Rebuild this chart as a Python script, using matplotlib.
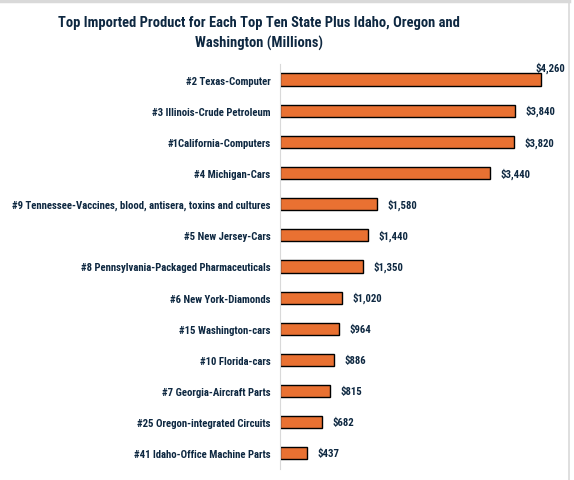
import matplotlib.pyplot as plt
from matplotlib import font_manager
from matplotlib.lines import Line2D

labels = ["#2 Texas-Computer", "#3 Illinois-Crude Petroleum", "#1California-Computers",
          "#4 Michigan-Cars", "#9 Tennessee-Vaccines, blood, antisera, toxins and cultures",
          "#5 New Jersey-Cars", "#8 Pennsylvania-Packaged Pharmaceuticals",
          "#6 New York-Diamonds", "#15 Washington-cars", "#10 Florida-cars",
          "#7 Georgia-Aircraft Parts", "#25 Oregon-integrated Circuits",
          "#41 Idaho-Office Machine Parts"]
values = [4260, 3840, 3820, 3440, 1580, 1440, 1350, 1020, 964, 886, 815, 682, 437]
title = "Top Imported Product for Each Top Ten State Plus Idaho, Oregon and\nWashington (Millions)"

# prefer a narrow face
names = {f.name for f in font_manager.fontManager.ttflist}
family = "Liberation Sans"
for cand in ["Liberation Sans Narrow", "Roboto Condensed", "Open Sans Condensed"]:
    if cand in names:
        family = cand
        break
plt.rcParams['font.family'] = [family, 'DejaVu Sans']

navy = "#0E2841"
orange = "#E97132"

fig = plt.figure(figsize=(5.74, 4.81), dpi=100)
renderer = fig.canvas.get_renderer()


def fit_size(text, width_px, base=10):
    t = fig.text(0, 0, text, fontsize=base, fontweight="bold")
    w = t.get_window_extent(renderer).width
    t.remove()
    return base * width_px / w


title_size = fit_size(title.split("\n")[0], 402)
label_size = fit_size(labels[4], 262)

# chart border (top and right edges visible in the screenshot)
fig.add_artist(Line2D([0, 0.992], [0.996, 0.996], transform=fig.transFigure,
                      color="#D9D9D9", linewidth=2.5))
fig.add_artist(Line2D([0.992, 0.992], [0, 0.996], transform=fig.transFigure,
                      color="#D9D9D9", linewidth=1.2))

ax = fig.add_axes([0.488, 0.023, 0.49, 0.842])

pos = list(range(len(values)))
ax.barh(pos, values, height=0.39, color=orange, edgecolor="black", linewidth=1)
ax.set_ylim(len(values) - 0.5, -0.5)
ax.set_xlim(0, 4600)
ax.set_yticks(pos)
ax.set_yticklabels(labels, fontsize=label_size, fontweight="bold", color=navy)
ax.tick_params(axis="y", length=0, pad=7)
ax.set_xticks([])
for s in ["top", "right", "bottom"]:
    ax.spines[s].set_visible(False)
ax.spines["left"].set_color("#D9D9D9")

for i, v in enumerate(values):
    txt = f"${v:,}"
    if i == 0:
        ax.annotate(txt, (v, i), xytext=(-4, 9), textcoords="offset points",
                    fontsize=label_size, fontweight="bold", color=navy, va="center", ha="left")
    else:
        ax.annotate(txt, (v, i), xytext=(7.5, 0), textcoords="offset points",
                    fontsize=label_size, fontweight="bold", color=navy, va="center", ha="left")

fig.text(0.451, 0.931, title, ha="center", va="center", fontsize=title_size,
         fontweight="bold", color=navy, linespacing=1.5)

fig.savefig("out.png", dpi=100)
